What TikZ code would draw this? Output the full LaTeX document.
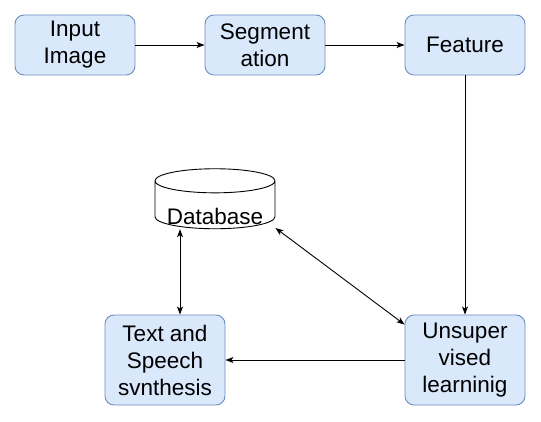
\documentclass[tikz,border=0pt]{standalone}
\usepackage{fontspec}
\setmainfont{Liberation Sans}
\usepackage{xcolor}
\usetikzlibrary{shapes.geometric, arrows.meta, positioning}

\definecolor{boxfill}{HTML}{DAE8FC}
\definecolor{boxline}{HTML}{6C8EBF}

\begin{document}
\begin{tikzpicture}[x=1pt, y=-1pt, >={Stealth[length=8pt, width=6pt, inset=2pt]}, line width=0.9pt,
    blockbox/.style={draw=boxline, fill=boxfill, rounded corners=9pt, minimum width=120pt, minimum height=60pt, align=center, inner sep=0pt, font=\fontsize{22.5}{27}\selectfont},
    dbstore/.style={draw, cylinder, shape border rotate=90, aspect=0.25, minimum width=120pt, minimum height=60pt, inner sep=0pt, font=\fontsize{22.5}{27}\selectfont}]
    \useasboundingbox (0,0) rectangle (541,422);

    \node[blockbox] (inp) at (75,45) {Input\\Image};
    \node[blockbox] (seg) at (265,45) {Segment\\ation};
    \node[blockbox] (feat) at (465,45) {Feature};
    \node[dbstore] (db) at (215,205) {\smash{\raisebox{-20pt}{Database}}};
    \node[blockbox, minimum height=90pt] (tts) at (165,360) {Text and\\Speech\\svnthesis};
    \node[blockbox, minimum height=90pt] (unsup) at (465,360) {Unsuper\\vised\\learninig};

    \draw[->] (inp) -- (seg);
    \draw[->] (seg) -- (feat);
    \draw[->] (feat) -- (unsup);
    \draw[->] (unsup) -- (tts);
    \draw[<->] ([xshift=-35pt]db.south) -- ([xshift=15pt]tts.north);
    \draw[<->] ([yshift=-23pt]db.east) -- ([yshift=-10pt]unsup.north west);
\end{tikzpicture}
\end{document}
